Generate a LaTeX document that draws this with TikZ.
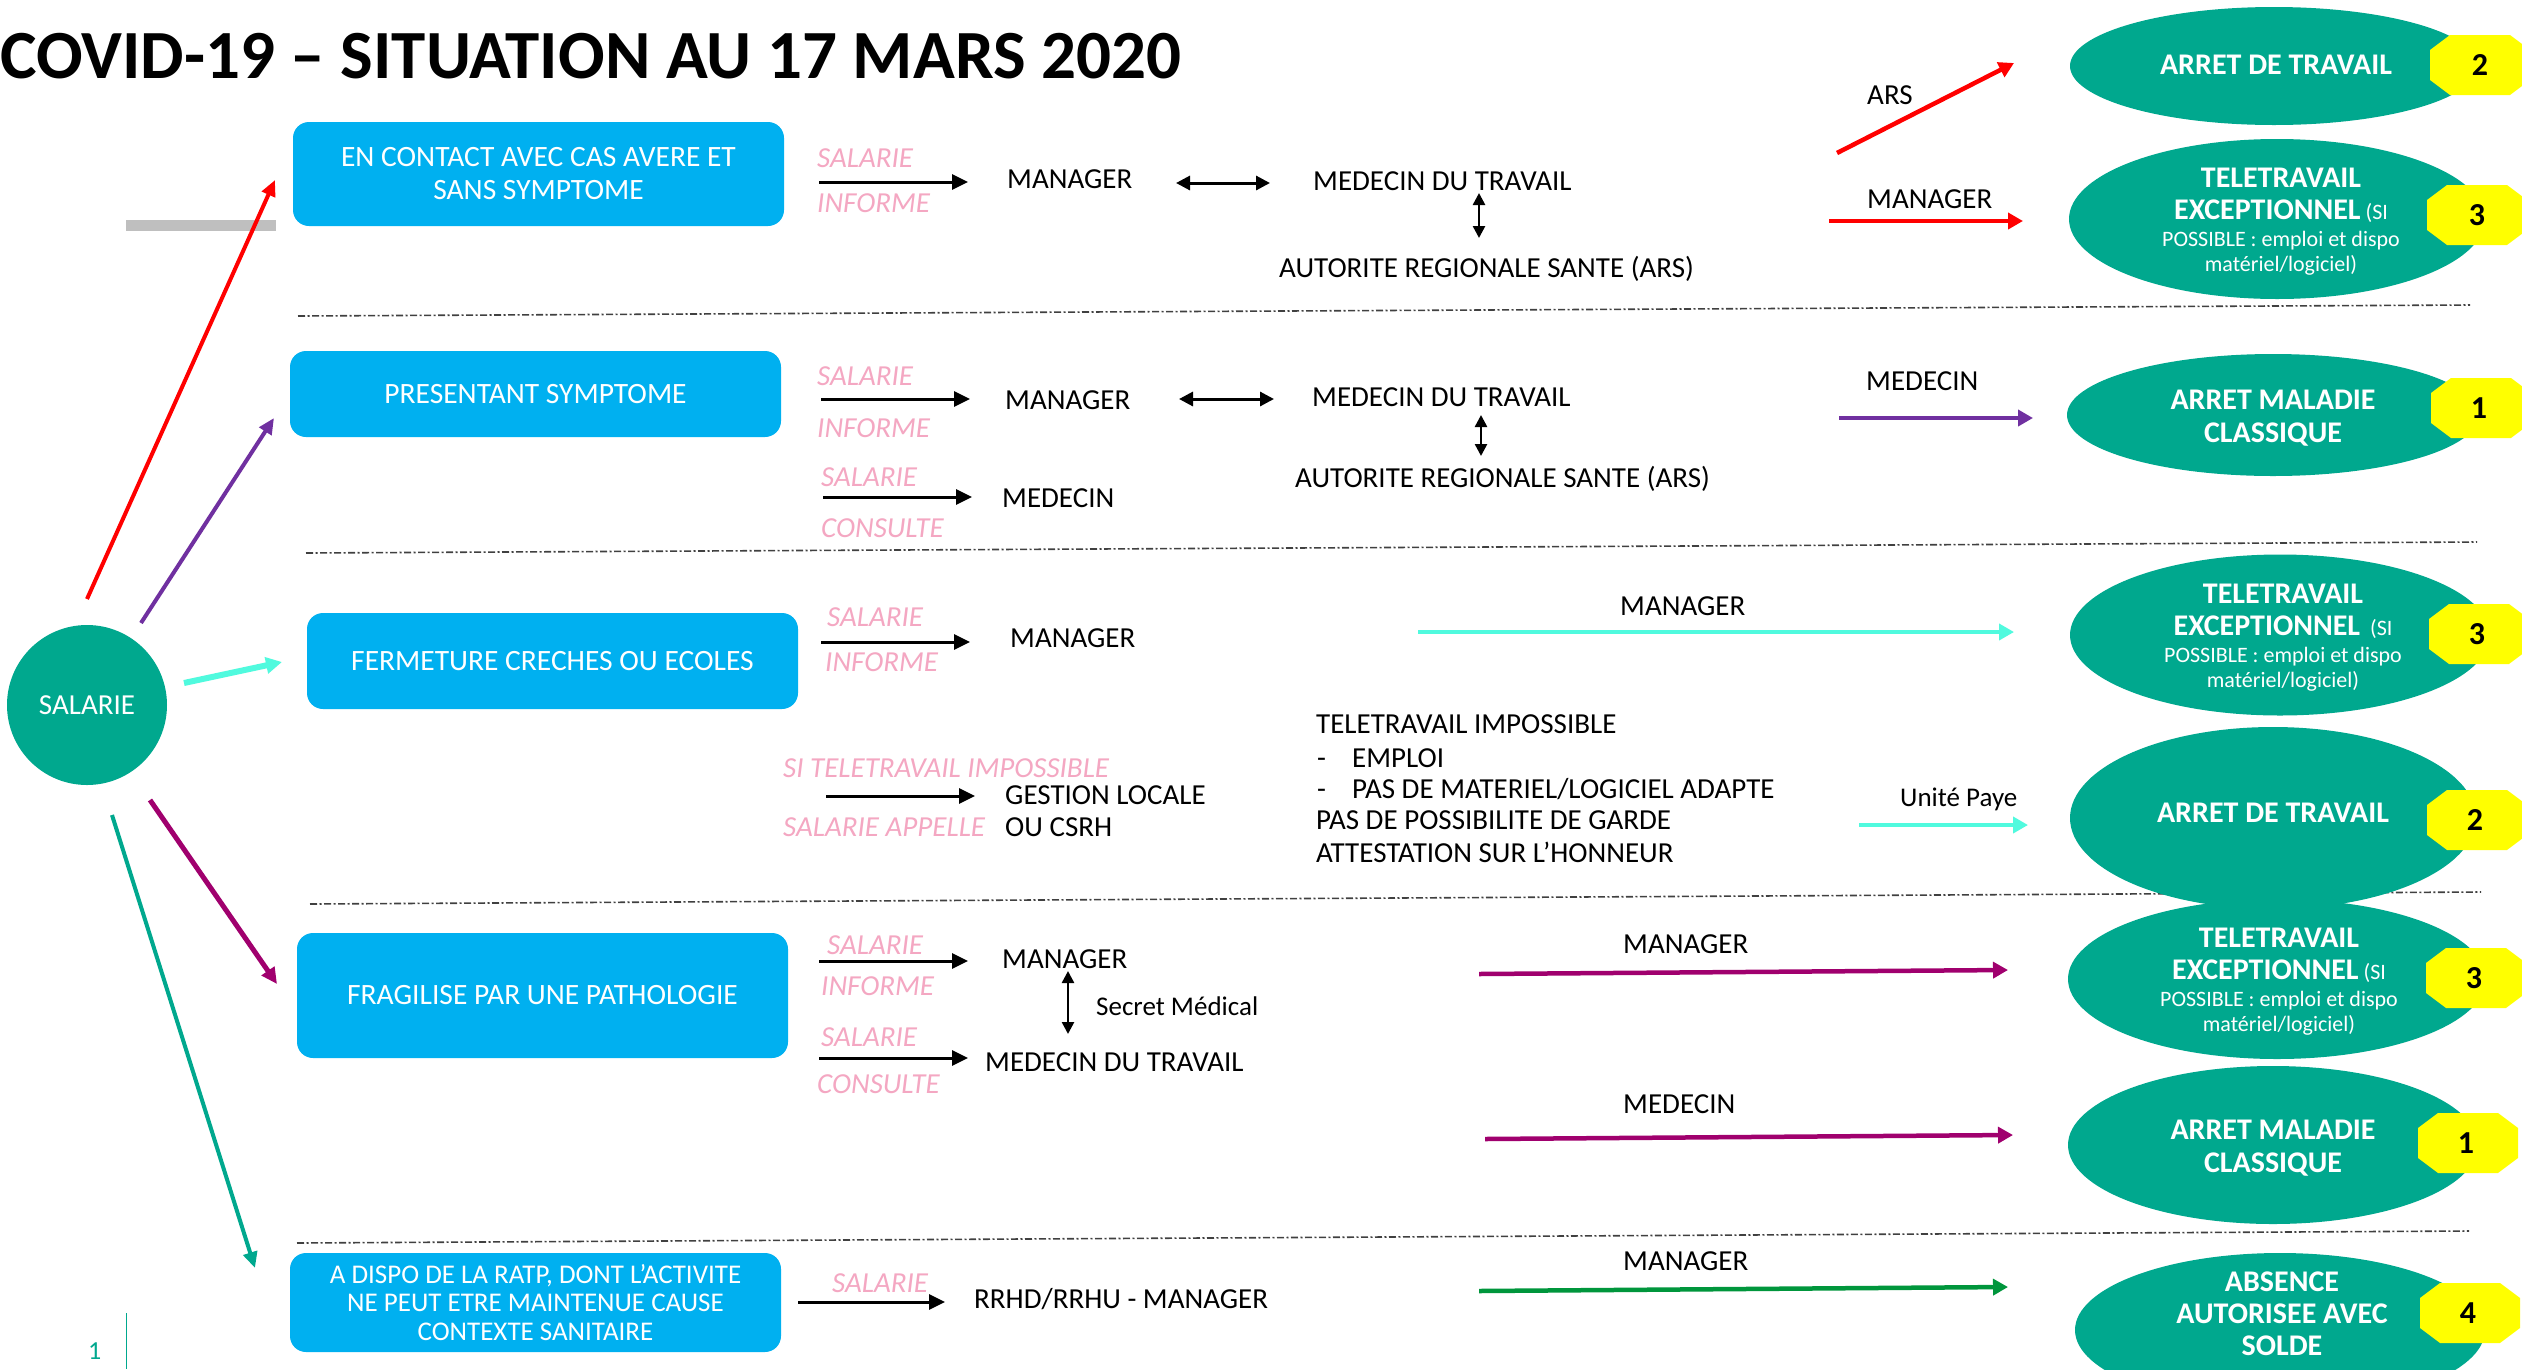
\documentclass[tikz,border=0pt]{standalone}
\usepackage{fontspec}
\setmainfont{Carlito}
\usetikzlibrary{arrows.meta,shapes.geometric}
\definecolor{boxblue}{RGB}{0,176,240}
\definecolor{tealC}{RGB}{0,168,142}
\definecolor{pinkC}{RGB}{244,167,194}
\definecolor{cyanC}{RGB}{80,250,222}
\definecolor{purpC}{RGB}{112,48,160}
\definecolor{magC}{RGB}{160,0,110}
\definecolor{grnC}{RGB}{0,150,60}
\definecolor{yelC}{RGB}{255,255,0}
\definecolor{barC}{RGB}{191,191,191}
\newcommand\fLab{\fontsize{29}{33}\selectfont}
\newcommand\fBox{\fontsize{29.5}{33}\selectfont}
\newcommand\fBoxS{\fontsize{27}{28.5}\selectfont}
\newcommand\fPink{\fontsize{29}{33}\selectfont\itshape}
\newcommand\fEllB{\fontsize{30}{33}\selectfont\bfseries}
\newcommand\fEllS{\fontsize{22}{25}\selectfont}
\newcommand\badgeshape[2]{\fill[yelC] (#1-50,#2-15) -- (#1-30,#2-30) -- (#1+30,#2-30) -- (#1+50,#2-15) -- (#1+50,#2+15) -- (#1+30,#2+30) -- (#1-30,#2+30) -- (#1-50,#2+15) -- cycle;}
\begin{document}
\begin{tikzpicture}[x=1pt,y=-1pt,
  lab/.style={anchor=base west, inner sep=0, font=\fLab, text=black},
  labs/.style={anchor=base west, inner sep=0, font=\fontsize{27}{30}\selectfont, text=black},
  pk/.style={anchor=base west, inner sep=0, font=\fPink, text=pinkC},
  bx/.style={fill=boxblue, rounded corners=16pt, text=white, font=\fBox, align=center, inner sep=0, minimum width=491pt},
  el/.style={ellipse, fill=tealC, inner sep=0},
  et/.style={text=white, align=center, inner sep=0},
  num/.style={inner sep=0, font=\fontsize{32}{34}\selectfont\bfseries, text=black},
  blk/.style={line width=3pt, -{Triangle[length=16pt,width=15pt]}},
  dblk/.style={line width=3pt, {Triangle[length=14pt,width=14pt]}-{Triangle[length=14pt,width=14pt]}},
  vdbl/.style={line width=2.5pt, {Triangle[length=12pt,width=12pt]}-{Triangle[length=12pt,width=12pt]}},
  carr/.style={line width=4.5pt, -{Triangle[length=15pt,width=16pt]}},
  sarr/.style={line width=4pt, -{Triangle[length=16pt,width=14pt]}},
  sep/.style={line width=1.6pt, draw=black!75, dash pattern=on 7pt off 2.5pt on 2pt off 2.5pt}
]
\useasboundingbox (0,0) rectangle (2522,1369);
\clip (0,0) rectangle (2522,1369);
\fill[white] (0,0) rectangle (2522,1369);

% title
\node[anchor=base west, inner sep=0, font=\fontsize{69}{71}\selectfont\bfseries] (title) at (0,78) {COVID-19 – SITUATION AU 17 MARS 2020};
\fill[barC] (126,220) rectangle (276,231);

% separators
\coordinate (s1a) at (298,316); \coordinate (s1b) at (2470,305);
\coordinate (s2a) at (306,553); \coordinate (s2b) at (2477,542);
\coordinate (s3a) at (310,904); \coordinate (s3b) at (2481,892);
\coordinate (s4a) at (297,1243); \coordinate (s4b) at (2469,1231);
\draw[sep] (s1a) -- (s1b);
\draw[sep] (s2a) -- (s2b);
\draw[sep] (s3a) -- (s3b);
\draw[sep] (s4a) -- (s4b);

% salarie
\node[circle, fill=tealC, minimum size=160pt, inner sep=0, text=white, font=\fontsize{29}{33}\selectfont] (sal) at (87,705) {SALARIE};

% boxes
\node[bx, minimum height=104pt] (box1) at (538.5,174) {EN CONTACT AVEC CAS AVERE ET\\SANS SYMPTOME};
\node[bx, minimum height=86pt] (box2) at (535.5,394) {PRESENTANT SYMPTOME};
\node[bx, minimum height=96pt] (box3) at (552.5,661) {FERMETURE CRECHES OU ECOLES};
\node[bx, minimum height=125pt] (box4) at (542.5,995.5) {FRAGILISE PAR UNE PATHOLOGIE};
\node[bx, minimum height=99pt, font=\fBoxS] (box5) at (535.5,1302.5) {A DISPO DE LA RATP, DONT L’ACTIVITE\\NE PEUT ETRE MAINTENUE CAUSE\\CONTEXTE SANITAIRE};

% salarie connectors
\coordinate (c1a) at (87,599);  \coordinate (c1b) at (275,180);
\coordinate (c2a) at (141,623); \coordinate (c2b) at (274,418);
\coordinate (c3a) at (184,683); \coordinate (c3b) at (282,662);
\coordinate (c4a) at (150,800); \coordinate (c4b) at (277,984);
\coordinate (c5a) at (112,815); \coordinate (c5b) at (255,1268);
\draw[sarr, red] (c1a) -- (c1b);
\draw[sarr, purpC] (c2a) -- (c2b);
\draw[line width=6pt, cyanC, -{Triangle[length=16pt,width=16pt]}] (c3a) -- (c3b);
\draw[line width=5pt, magC, -{Triangle[length=16pt,width=15pt]}] (c4a) -- (c4b);
\draw[sarr, tealC] (c5a) -- (c5b);

% ellipses
\node[el, minimum width=408pt, minimum height=118pt] (e1) at (2274,66) {};
\node[el, minimum width=416pt, minimum height=160pt] (e2) at (2277,219) {};
\node[el, minimum width=412pt, minimum height=122pt] (e3) at (2273,415) {};
\node[el, minimum width=420pt, minimum height=161pt] (e4) at (2280,635) {};
\node[el, minimum width=406pt, minimum height=182pt] (e5) at (2273,818) {};
\node[el, minimum width=418pt, minimum height=160pt] (e6) at (2277,979) {};
\node[el, minimum width=410pt, minimum height=158pt] (e7) at (2273,1145) {};
\node[el, minimum width=410pt, minimum height=154pt] (e8) at (2280,1330) {};

\node[et, font=\fEllB] (e1t) at (2276,65) {ARRET DE TRAVAIL};
\node[et, font=\fEllS] (e2t) at (2281,222) {{\fEllB TELETRAVAIL}\\[7pt]{\fEllB EXCEPTIONNEL} (SI\\[2pt]POSSIBLE : emploi et dispo\\matériel/logiciel)};
\node[et, font=\fEllB] (e3t) at (2273,418) {ARRET MALADIE\\CLASSIQUE};
\node[et, font=\fEllS] (e4t) at (2283,638) {{\fEllB TELETRAVAIL}\\[7pt]{\fEllB EXCEPTIONNEL} \ (SI\\[2pt]POSSIBLE : emploi et dispo\\matériel/logiciel)};
\node[et, font=\fEllB] (e5t) at (2273,813) {ARRET DE TRAVAIL};
\node[et, font=\fEllS] (e6t) at (2279,982) {{\fEllB TELETRAVAIL}\\[7pt]{\fEllB EXCEPTIONNEL} (SI\\[2pt]POSSIBLE : emploi et dispo\\matériel/logiciel)};
\node[et, font=\fEllB] (e7t) at (2273,1148) {ARRET MALADIE\\CLASSIQUE};
\node[et, font=\fontsize{30}{32}\selectfont\bfseries] (e8t) at (2282,1314) {ABSENCE\\AUTORISEE AVEC\\SOLDE};

% badges
\badgeshape{2480}{65}   \node[num] (n1) at (2480,65) {2};
\badgeshape{2477}{215}  \node[num] (n2) at (2477,215) {3};
\badgeshape{2481}{408}  \node[num] (n3) at (2479,408) {1};
\badgeshape{2479}{634}  \node[num] (n4) at (2477,634) {3};
\badgeshape{2477}{820}  \node[num] (n5) at (2475,820) {2};
\badgeshape{2476}{978}  \node[num] (n6) at (2474,978) {3};
\badgeshape{2468}{1143} \node[num] (n7) at (2466,1143) {1};
\badgeshape{2470}{1313} \node[num] (n8) at (2468,1313) {4};

% ---------- row 1
\node[pk] (p1a) at (817,167) {SALARIE};
\node[pk] (p1b) at (817,212) {INFORME};
\node[lab] (m1) at (1007,188) {MANAGER};
\node[lab] (md1) at (1313,190) {MEDECIN DU TRAVAIL};
\node[lab] (ars1) at (1279,277) {AUTORITE REGIONALE SANTE (ARS)};
\node[lab] (l1a) at (1867,104) {ARS};
\node[lab] (l1b) at (1867,208) {MANAGER};
\coordinate (a1a) at (819,182); \coordinate (a1b) at (968,182);
\draw[blk] (a1a) -- (a1b);
\coordinate (d1a) at (1176,183); \coordinate (d1b) at (1270,183);
\draw[dblk] (d1a) -- (d1b);
\coordinate (v1a) at (1479,193); \coordinate (v1b) at (1479,238);
\draw[vdbl] (v1a) -- (v1b);
\coordinate (r1a) at (1837,153); \coordinate (r1b) at (2014,63);
\draw[carr, red] (r1a) -- (r1b);
\coordinate (r2a) at (1829,221); \coordinate (r2b) at (2023,221);
\draw[carr, red] (r2a) -- (r2b);

% ---------- row 2
\node[pk] (p2a) at (817,385) {SALARIE};
\node[pk] (p2b) at (817,437) {INFORME};
\node[lab] (m2) at (1005,409) {MANAGER};
\node[lab] (md2) at (1312,406) {MEDECIN DU TRAVAIL};
\node[lab] (ars2) at (1295,487) {AUTORITE REGIONALE SANTE (ARS)};
\node[lab] (l2a) at (1866,390) {MEDECIN};
\node[pk] (p2c) at (821,486) {SALARIE};
\node[lab] (med2) at (1002,507) {MEDECIN};
\node[pk] (p2d) at (821,537) {CONSULTE};
\coordinate (a2a) at (821,399); \coordinate (a2b) at (970,399);
\draw[blk] (a2a) -- (a2b);
\coordinate (d2a) at (1179,399); \coordinate (d2b) at (1274,399);
\draw[dblk] (d2a) -- (d2b);
\coordinate (v2a) at (1481,415); \coordinate (v2b) at (1481,456);
\draw[vdbl] (v2a) -- (v2b);
\coordinate (a3a) at (823,497); \coordinate (a3b) at (972,497);
\draw[blk] (a3a) -- (a3b);
\coordinate (pu1a) at (1839,418); \coordinate (pu1b) at (2033,418);
\draw[carr, purpC] (pu1a) -- (pu1b);

% ---------- row 3
\node[pk] (p3a) at (827,626) {SALARIE};
\node[pk] (p3b) at (825,671) {INFORME};
\node[lab] (m3) at (1010,647) {MANAGER};
\node[lab] (l3a) at (1620,615) {MANAGER};
\node[pk] (p3c) at (783,777) {SI TELETRAVAIL IMPOSSIBLE};
\node[lab] (g3) at (1005,804) {GESTION LOCALE};
\node[pk] (p3d) at (783,836) {SALARIE APPELLE};
\node[lab] (g3b) at (1005,836) {OU CSRH};
\node[lab] (t3a) at (1316,733) {TELETRAVAIL IMPOSSIBLE};
\node[lab] (t3b) at (1317,767) {-};
\node[lab] (t3c) at (1352,767) {EMPLOI};
\node[lab] (t3d) at (1317,798) {-};
\node[lab] (t3e) at (1352,798) {PAS DE MATERIEL/LOGICIEL ADAPTE};
\node[lab] (t3f) at (1316,829) {PAS DE POSSIBILITE DE GARDE};
\node[lab] (t3g) at (1316,862) {ATTESTATION SUR L’HONNEUR};
\node[labs] (l3b) at (1900,806) {Unité Paye};
\coordinate (a4a) at (821,642); \coordinate (a4b) at (970,642);
\draw[blk] (a4a) -- (a4b);
\coordinate (cy1a) at (1418,632); \coordinate (cy1b) at (2014,632);
\draw[carr, cyanC] (cy1a) -- (cy1b);
\coordinate (a5a) at (826,796); \coordinate (a5b) at (975,796);
\draw[blk] (a5a) -- (a5b);
\coordinate (cy2a) at (1859,825); \coordinate (cy2b) at (2028,825);
\draw[carr, cyanC] (cy2a) -- (cy2b);

% ---------- row 4
\node[pk] (p4a) at (827,954) {SALARIE};
\node[pk] (p4b) at (821,995) {INFORME};
\node[lab] (m4) at (1002,968) {MANAGER};
\node[labs] (sm4) at (1096,1015) {Secret Médical};
\node[pk] (p4c) at (821,1046) {SALARIE};
\node[lab] (md4) at (985,1071) {MEDECIN DU TRAVAIL};
\node[pk] (p4d) at (817,1093) {CONSULTE};
\node[lab] (l4a) at (1623,953) {MANAGER};
\node[lab] (l4b) at (1623,1113) {MEDECIN};
\coordinate (a6a) at (819,961); \coordinate (a6b) at (968,961);
\draw[blk] (a6a) -- (a6b);
\coordinate (v4a) at (1068,971); \coordinate (v4b) at (1068,1034);
\draw[vdbl] (v4a) -- (v4b);
\coordinate (a7a) at (819,1058); \coordinate (a7b) at (968,1058);
\draw[blk] (a7a) -- (a7b);
\coordinate (mg1a) at (1479,974); \coordinate (mg1b) at (2008,970);
\draw[carr, magC] (mg1a) -- (mg1b);
\coordinate (mg2a) at (1485,1139); \coordinate (mg2b) at (2013,1135);
\draw[carr, magC] (mg2a) -- (mg2b);

% ---------- row 5
\node[pk] (p5a) at (832,1292) {SALARIE};
\node[lab] (rr5) at (974,1308) {RRHD/RRHU - MANAGER};
\node[lab] (l5a) at (1623,1270) {MANAGER};
\coordinate (a8a) at (798,1302); \coordinate (a8b) at (945,1302);
\draw[blk] (a8a) -- (a8b);
\coordinate (gr1a) at (1479,1291); \coordinate (gr1b) at (2008,1287);
\draw[carr, grnC] (gr1a) -- (gr1b);

% page number
\node[anchor=base west, inner sep=0, font=\fontsize{26}{28}\selectfont, text=tealC] (pg) at (88,1359) {1};
\coordinate (pl1) at (126,1313); \coordinate (pl2) at (126,1369);
\draw[tealC, line width=1pt] (pl1) -- (pl2);
\end{tikzpicture}
\end{document}
